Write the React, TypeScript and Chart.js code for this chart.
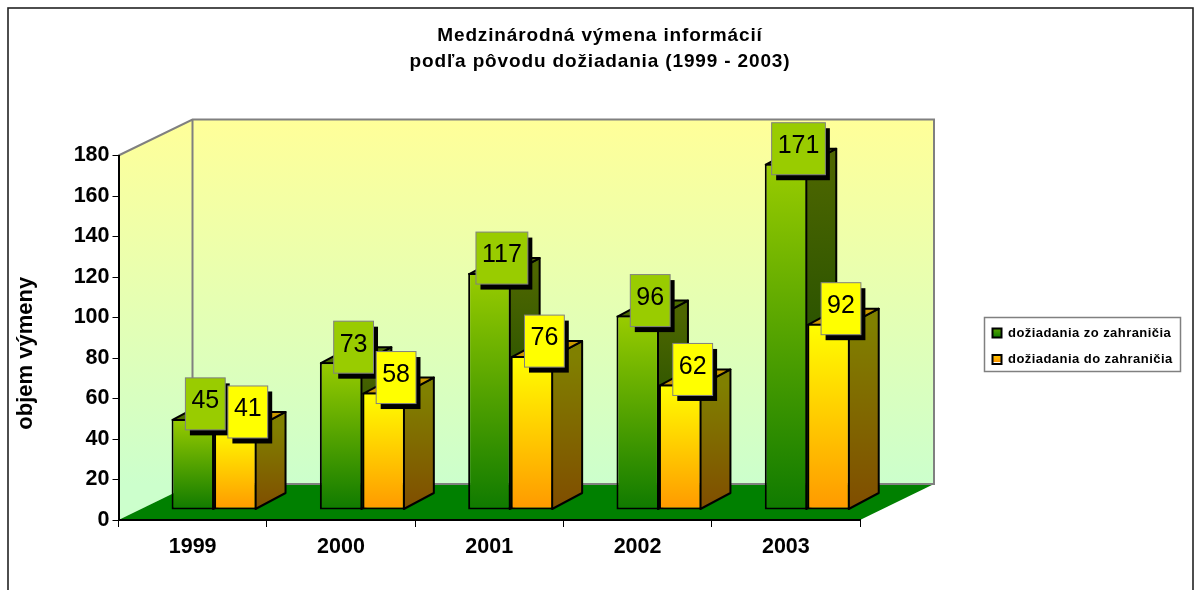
import React, { useEffect, useRef } from "react";
import { Chart, registerables } from "chart.js";

Chart.register(...registerables);

const categories = ["1999", "2000", "2001", "2002", "2003"];
const fromAbroad = [45, 73, 117, 96, 171];
const toAbroad = [41, 58, 76, 62, 92];
const seriesNames = ["dožiadania zo zahraničia", "dožiadania do zahraničia"];
const titleLines = ["Medzinárodná výmena informácií", "podľa pôvodu dožiadania (1999 - 2003)"];
const axisTitle = "objem výmeny";

const FONT = "'Liberation Sans', Arial, sans-serif";
const WALL_DX = 74;
const WALL_DY = -36;
const BAR_DX = 21.4;
const BAR_DY = -10;
const SIDE_DX = 30;
const SIDE_DY = -16;

const palette = [
  { top: "#99CC00", bottom: "#0F7A00", sideTop: "#4D6600", sideBottom: "#074000", cap: "#4D6E00", label: "#99CC00" },
  { top: "#FFFF00", bottom: "#FF9900", sideTop: "#808000", sideBottom: "#804D00", cap: "#CC9900", label: "#FFFF00" },
];

function vertical(ctx: CanvasRenderingContext2D, y0: number, y1: number, c0: string, c1: string) {
  const g = ctx.createLinearGradient(0, y0, 0, y1);
  g.addColorStop(0, c0);
  g.addColorStop(1, c1);
  return g;
}

function poly(ctx: CanvasRenderingContext2D, pts: number[][]) {
  ctx.beginPath();
  pts.forEach((p, i) => (i ? ctx.lineTo(p[0], p[1]) : ctx.moveTo(p[0], p[1])));
  ctx.closePath();
}

function drawValueLabels(chart: any) {
  const { ctx } = chart;
  ctx.save();
  ctx.font = `25px ${FONT}`;
  ctx.textAlign = "center";
  ctx.textBaseline = "middle";
  chart.data.datasets.forEach((ds: any, di: number) => {
    chart.getDatasetMeta(di).data.forEach((bar: any, i: number) => {
      const text = String(ds.data[i]);
      const w = ctx.measureText(text).width + 12;
      const h = 52;
      const cx = bar.x + BAR_DX + 12.5;
      const cy = bar.y + BAR_DY - 15;
      ctx.fillStyle = "#000";
      ctx.fillRect(cx - w / 2 + 4.5, cy - h / 2 + 5.5, w, h);
      ctx.fillStyle = palette[di].label;
      ctx.fillRect(cx - w / 2, cy - h / 2, w, h);
      ctx.strokeStyle = "#808080";
      ctx.lineWidth = 1;
      ctx.strokeRect(cx - w / 2, cy - h / 2, w, h);
      ctx.fillStyle = "#000";
      ctx.fillText(text, cx, cy - 2.5);
    });
  });
  ctx.restore();
}

const scenePlugin = {
  id: "scene3d",
  afterLayout(chart: any) {
    const tb = chart.titleBlock;
    tb.left = 4;
    tb.right = 1196;
    const lg = chart.legend;
    lg.left = 979;
    lg.right = 1190;
    lg.top = 313;
    lg.bottom = 385;
    lg.width = lg.right - lg.left;
    lg.height = lg.bottom - lg.top;
    if (!chart.$patched) {
      chart.$patched = true;
      const spaced = (box: any, spacing: string) => {
        const orig = box.draw;
        box.draw = function (...a: any[]) {
          const c = chart.ctx;
          c.save();
          c.letterSpacing = spacing;
          orig.apply(this, a);
          c.restore();
        };
      };
      spaced(tb, "0.85px");
      spaced(lg, "0.45px");
      const y = chart.scales.y;
      const drawTitle = y.drawTitle;
      y.drawTitle = function (...a: any[]) {
        chart.ctx.save();
        chart.ctx.translate(0, 15.5);
        drawTitle.apply(this, a);
        chart.ctx.restore();
      };
    }
  },
  beforeDraw(chart: any) {
    const { ctx, chartArea: a } = chart;
    const { left: l, right: r, top: t, bottom: b } = a;
    ctx.save();
    ctx.fillStyle = "#fff";
    ctx.fillRect(0, 0, chart.width, chart.height);
    ctx.strokeStyle = "#222";
    ctx.lineWidth = 1.6;
    ctx.strokeRect(8, 8, 1185, 620);
    const wall = vertical(ctx, t + WALL_DY, b + WALL_DY, "#FFFF99", "#CCFFCC");
    ctx.fillStyle = wall;
    poly(ctx, [[l, t], [l + WALL_DX, t + WALL_DY], [l + WALL_DX, b + WALL_DY], [l, b]]);
    ctx.fill();
    ctx.fillRect(l + WALL_DX, t + WALL_DY, r - l, b - t);
    ctx.fillStyle = "#008000";
    poly(ctx, [[l, b], [l + WALL_DX, b + WALL_DY], [r + WALL_DX, b + WALL_DY], [r, b]]);
    ctx.fill();
    ctx.strokeStyle = "#808080";
    ctx.lineWidth = 2;
    ctx.beginPath();
    ctx.moveTo(l, t);
    ctx.lineTo(l + WALL_DX, t + WALL_DY);
    ctx.lineTo(r + WALL_DX, t + WALL_DY);
    ctx.lineTo(r + WALL_DX, b + WALL_DY);
    ctx.lineTo(l + WALL_DX, b + WALL_DY);
    ctx.lineTo(l + WALL_DX, t + WALL_DY);
    ctx.stroke();
    ctx.fillStyle = "#fff";
    ctx.lineWidth = 1.5;
    ctx.fillRect(984.5, 317.5, 196, 54);
    ctx.strokeRect(984.5, 317.5, 196, 54);
    ctx.restore();
  },
  // Chart.js paints the first dataset last; the 3D look needs the first one painted first.
  beforeDatasetsDraw(chart: any) {
    chart.getSortedVisibleDatasetMetas().forEach((meta: any) => chart._drawDataset(meta));
    drawValueLabels(chart);
    return false;
  },
  beforeDatasetDraw(chart: any, args: any) {
    const { ctx, scales } = chart;
    const pal = palette[args.index];
    const y0 = scales.y.getPixelForValue(0);
    ctx.save();
    ctx.translate(BAR_DX, BAR_DY);
    ctx.lineWidth = 2;
    ctx.strokeStyle = "#000";
    ctx.lineJoin = "round";
    args.meta.data.forEach((bar: any) => {
      const xr = bar.x + bar.width / 2 - 1;
      const xl = bar.x - bar.width / 2 + 1;
      const yt = bar.y + 1;
      ctx.fillStyle = vertical(ctx, bar.y, y0, pal.sideTop, pal.sideBottom);
      poly(ctx, [[xr, yt], [xr + SIDE_DX, yt + SIDE_DY], [xr + SIDE_DX, y0 - 1 + SIDE_DY], [xr, y0 - 1]]);
      ctx.fill();
      ctx.stroke();
      ctx.fillStyle = pal.cap;
      poly(ctx, [[xl, yt], [xl + SIDE_DX, yt + SIDE_DY], [xr + SIDE_DX, yt + SIDE_DY], [xr, yt]]);
      ctx.fill();
      ctx.stroke();
    });
  },
  afterDatasetDraw(chart: any) {
    chart.ctx.restore();
  },
};

function barGradient(di: number) {
  return (c: any) => {
    const chart = c.chart;
    const pal = palette[di];
    if (!chart.scales?.y || c.dataIndex === undefined) return pal.top;
    const v = chart.data.datasets[di].data[c.dataIndex];
    return vertical(chart.ctx, chart.scales.y.getPixelForValue(v), chart.scales.y.getPixelForValue(0), pal.top, pal.bottom);
  };
}

export default function App() {
  const ref = useRef<HTMLCanvasElement>(null);
  useEffect(() => {
    const canvas = ref.current!;
    const c2d = canvas.getContext("2d")!;
    const swatches = [
      (() => {
        const g = c2d.createLinearGradient(0, 328, 0, 338);
        g.addColorStop(0, "#5FA800");
        g.addColorStop(1, "#0A7A00");
        return g;
      })(),
      (() => {
        const g = c2d.createLinearGradient(0, 355, 0, 365);
        g.addColorStop(0, "#FFCC00");
        g.addColorStop(0.65, "#FF9900");
        g.addColorStop(0.7, "#FFFFFF");
        g.addColorStop(1, "#FFFFFF");
        return g;
      })(),
    ];
    const chart = new Chart(canvas, {
      type: "bar",
      data: {
        labels: categories,
        datasets: [
          { label: seriesNames[0], data: fromAbroad, backgroundColor: barGradient(0), borderColor: "#000", borderWidth: 2, borderSkipped: false, clip: false } as any,
          { label: seriesNames[1], data: toAbroad, backgroundColor: barGradient(1), borderColor: "#000", borderWidth: 2, borderSkipped: false, clip: false } as any,
        ],
      },
      options: {
        responsive: false,
        animation: false,
        events: [],
        layout: { padding: { top: 0, right: 336, bottom: 0, left: 0 } },
        datasets: { bar: { categoryPercentage: 0.573, barPercentage: 1 } },
        scales: {
          x: {
            afterFit: (s: any) => { s.height = 70; },
            grid: { drawOnChartArea: false, drawTicks: true, tickLength: 7, color: "#000", lineWidth: 1 },
            border: { display: true, color: "#000", width: 2 },
            ticks: { color: "#000", font: { family: FONT, size: 21.5, weight: "bold" }, padding: 7, maxRotation: 0 },
          },
          y: {
            min: 0,
            max: 180,
            afterFit: (s: any) => { s.width = 118.5; },
            grid: { drawOnChartArea: false, drawTicks: true, tickLength: 6, color: "#000", lineWidth: 1 },
            border: { display: true, color: "#000", width: 2 },
            ticks: { stepSize: 20, color: "#000", font: { family: FONT, size: 21.5, weight: "bold" }, padding: 3 },
            title: { display: true, text: axisTitle, color: "#000", font: { family: FONT, size: 22, weight: "bold" }, padding: { top: 13, bottom: 0 } },
          },
        },
        plugins: {
          tooltip: { enabled: false },
          title: {
            display: true,
            text: titleLines,
            color: "#000",
            font: { family: FONT, size: 19, weight: "bold", lineHeight: "26px" },
            padding: { top: 23, bottom: 80.5 },
          },
          legend: {
            display: true,
            position: "chartArea",
            align: "start",
            labels: {
              color: "#000",
              font: { family: FONT, size: 13, weight: "bold" },
              boxWidth: 9,
              boxHeight: 9,
              padding: 13.5,
              generateLabels: () =>
                seriesNames.map((t, i) => ({ text: t, fillStyle: swatches[i], strokeStyle: "#000", lineWidth: 2, hidden: false, datasetIndex: i, fontColor: "#000" })),
            },
          },
        },
      } as any,
      plugins: [scenePlugin],
    });
    return () => chart.destroy();
  }, []);
  return <canvas ref={ref} width={1196} height={590} style={{ position: "absolute", left: 0, top: 0, width: 1196, height: 590 }} />;
}
